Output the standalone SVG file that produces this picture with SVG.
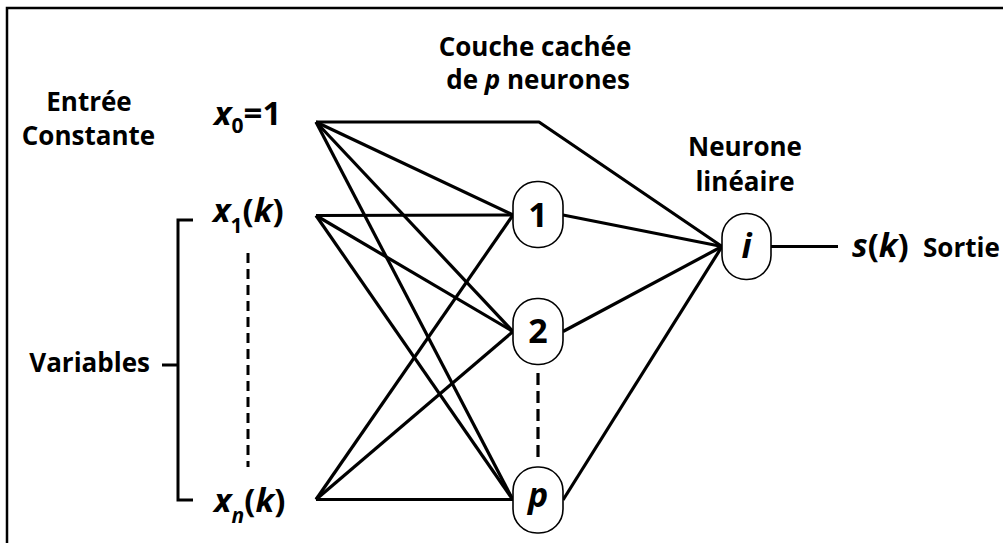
<svg xmlns="http://www.w3.org/2000/svg" width="1003" height="543" viewBox="0 0 1003 543">
<style>
.lbl{font-family:"Open Sans","Liberation Sans",sans-serif;font-weight:700;font-size:26px;fill:#000}
.math{font-family:"Open Sans","Liberation Sans",sans-serif;font-weight:700;font-size:33px;fill:#000}
.it{font-style:italic}
.sub{font-size:21px}
.node{fill:#fff;stroke:#000;stroke-width:1.6}
.ntx{font-family:"Open Sans","Liberation Sans",sans-serif;font-weight:700;font-size:34px;fill:#000;text-anchor:middle}
.edge{stroke:#000;stroke-width:3.2;fill:none;stroke-linejoin:round}
</style>
<rect width="1003" height="543" fill="#fff"/>
<path d="M7,543 V8 H1003" fill="none" stroke="#000" stroke-width="2.5"/>

<g id="connectors">
<polyline class="edge" points="316,122 539,122 722,246.5"/>
<line class="edge" x1="316" y1="122" x2="513" y2="215"/>
<line class="edge" x1="316" y1="122" x2="513" y2="331.5"/>
<line class="edge" x1="316" y1="122" x2="513" y2="500"/>
<line class="edge" x1="316" y1="215.5" x2="513" y2="215"/>
<line class="edge" x1="316" y1="215.5" x2="513" y2="331.5"/>
<line class="edge" x1="316" y1="215.5" x2="513" y2="500"/>
<line class="edge" x1="316" y1="499.5" x2="513" y2="215"/>
<line class="edge" x1="316" y1="499.5" x2="513" y2="331.5"/>
<line class="edge" x1="316" y1="499.5" x2="513" y2="499.5"/>
<line class="edge" x1="563" y1="215" x2="722" y2="246.5"/>
<line class="edge" x1="563" y1="331.5" x2="722" y2="246.5"/>
<line class="edge" x1="563" y1="500" x2="722" y2="246.5"/>
<line class="edge" x1="771" y1="246.5" x2="838" y2="246.5"/>
<line class="edge" x1="538" y1="373" x2="538" y2="460" stroke-dasharray="12 6"/>
</g>

<g id="inputs">
<text class="lbl" x="89" y="110.5" text-anchor="middle">Entrée</text>
<text class="lbl" x="88.5" y="144.5" text-anchor="middle">Constante</text>
<text class="math" x="214" y="125"><tspan class="it">x</tspan><tspan class="sub" dy="8">0</tspan><tspan dy="-8">=1</tspan></text>
<text class="math" x="213" y="222"><tspan class="it">x</tspan><tspan class="sub" dy="11">1</tspan><tspan dy="-11">(</tspan><tspan class="it">k</tspan>)</text>
<text class="math" x="214" y="512"><tspan class="it">x</tspan><tspan class="sub it" dy="11">n</tspan><tspan dy="-11">(</tspan><tspan class="it">k</tspan>)</text>
<line x1="248" y1="253" x2="248" y2="467" stroke="#000" stroke-width="3" stroke-dasharray="10 6"/>
</g>

<g id="variables">
<path d="M193,220 H178 V500 H193 M162,365 H178" fill="none" stroke="#000" stroke-width="3"/>
<text class="lbl" x="150" y="372" text-anchor="end">Variables</text>
</g>

<g id="hidden-title">
<text class="lbl" x="535" y="56" text-anchor="middle">Couche cachée</text>
<text class="lbl" x="538" y="89" text-anchor="middle">de <tspan font-style="italic">p</tspan> neurones</text>
</g>

<g id="node-1">
<rect class="node" x="513" y="181.5" width="50" height="66" rx="24" ry="24"/>
<text class="ntx" x="538" y="227">1</text>
</g>
<g id="node-2">
<rect class="node" x="513" y="298.5" width="50" height="66" rx="24" ry="24"/>
<text class="ntx" x="538" y="343">2</text>
</g>
<g id="node-p">
<rect class="node" x="513" y="467" width="50" height="66" rx="24" ry="24"/>
<text class="ntx" x="538" y="507" font-style="italic">p</text>
</g>

<g id="node-i">
<rect class="node" x="722" y="213.5" width="49" height="66" rx="24" ry="24"/>
<text class="ntx" x="746.5" y="258" font-style="italic">i</text>
<text class="lbl" x="745" y="156" text-anchor="middle">Neurone</text>
<text class="lbl" x="745" y="191" text-anchor="middle">linéaire</text>
</g>

<g id="output">
<text class="math" x="852" y="257"><tspan class="it">s</tspan>(<tspan class="it">k</tspan>)</text>
<text class="lbl" x="923" y="257">Sortie</text>
</g>
</svg>
